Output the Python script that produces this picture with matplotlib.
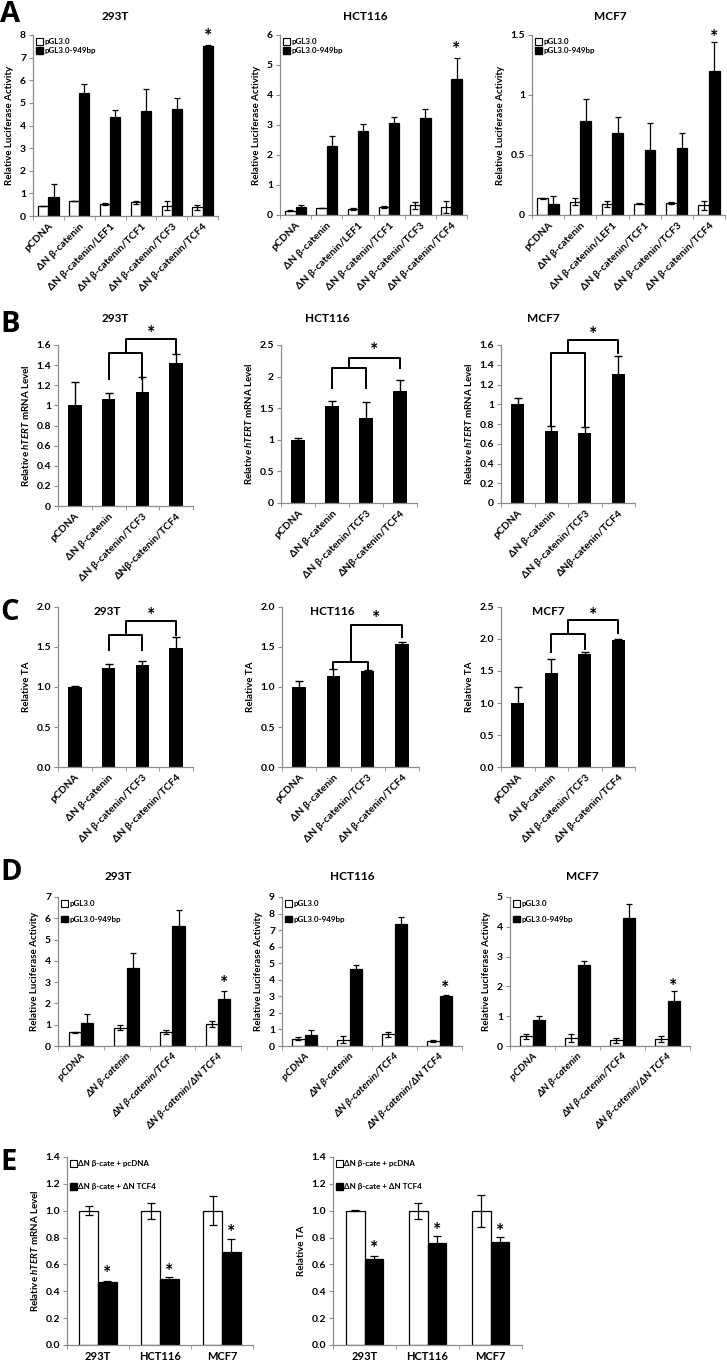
import numpy as np
import matplotlib.pyplot as plt
from matplotlib.patches import Patch

plt.rcParams['font.family'] = ['Lato', 'Open Sans', 'DejaVu Sans']
plt.rcParams['font.weight'] = 'bold'
plt.rcParams['mathtext.fontset'] = 'custom'
plt.rcParams['mathtext.it'] = 'Lato:italic:bold'
plt.rcParams['mathtext.rm'] = 'Lato:bold'

W, H = 727, 1362

# ---------------- data ----------------
# A: promoter luciferase activity, six constructs
a_labels = ['pCDNA', 'ΔN β-catenin', 'ΔN β-catenin/LEF1', 'ΔN β-catenin/TCF1',
            'ΔN β-catenin/TCF3', 'ΔN β-catenin/TCF4']
a293_ctrl = [0.45, 0.68, 0.53, 0.60, 0.45, 0.38]
a293_ctrl_err = [0.0, 0.0, 0.04, 0.05, 0.20, 0.12]
a293_prom = [0.85, 5.45, 4.37, 4.62, 4.72, 7.50]
a293_prom_err = [0.55, 0.40, 0.31, 1.00, 0.50, 0.05]
ahct_ctrl = [0.15, 0.22, 0.20, 0.27, 0.32, 0.27]
ahct_ctrl_err = [0.02, 0.0, 0.03, 0.02, 0.13, 0.20]
ahct_prom = [0.27, 2.30, 2.80, 3.08, 3.23, 4.52]
ahct_prom_err = [0.08, 0.32, 0.25, 0.20, 0.32, 0.73]
amcf_ctrl = [0.14, 0.11, 0.09, 0.095, 0.10, 0.08]
amcf_ctrl_err = [0.005, 0.03, 0.025, 0.003, 0.005, 0.035]
amcf_prom = [0.09, 0.78, 0.68, 0.54, 0.56, 1.20]
amcf_prom_err = [0.07, 0.19, 0.14, 0.23, 0.12, 0.24]

# B: hTERT mRNA
b_labels = ['pCDNA', 'ΔN β-catenin', 'ΔN β-catenin/TCF3', 'ΔNβ-catenin/TCF4']
b293 = [1.00, 1.06, 1.13, 1.42]
b293_err = [0.23, 0.06, 0.15, 0.09]
bhct = [1.00, 1.54, 1.35, 1.77]
bhct_err = [0.03, 0.07, 0.25, 0.17]
bmcf = [1.00, 0.73, 0.71, 1.31]
bmcf_err = [0.065, 0.05, 0.06, 0.18]

# C: telomerase activity
c_labels = ['pCDNA', 'ΔN β-catenin', 'ΔN β-catenin/TCF3', 'ΔN β-catenin/TCF4']
c293 = [1.00, 1.24, 1.27, 1.49]
c293_err = [0.01, 0.05, 0.06, 0.13]
chct = [1.00, 1.14, 1.20, 1.54]
chct_err = [0.08, 0.08, 0.01, 0.02]
cmcf = [1.00, 1.47, 1.77, 1.98]
cmcf_err = [0.25, 0.21, 0.02, 0.02]

# brackets: (low bracket y, leg end bar2, leg end bar3, upper y, leg end bar4, star y)
b293_br = (1.52, 1.26, 1.26, 1.66, 1.52, 1.71)
bhct_br = (2.13, 1.82, 1.82, 2.29, 2.13, 2.42)
bmcf_br = (1.516, 0.79, 0.775, 1.65, 1.516, 1.71)
c293_br = (1.65, 1.46, 1.46, 1.82, 1.65, 1.90)
chct_br = (1.31, 1.22, 1.22, 1.78, 1.62, 1.86)
cmcf_br = (2.08, 1.80, 1.85, 2.29, 2.10, 2.37)

# D: dominant negative TCF4
d_labels = ['pCDNA', 'ΔN β-catenin', 'ΔN β-catenin/TCF4', 'ΔN β-catenin/ΔN TCF4']
d293_ctrl = [0.65, 0.85, 0.65, 1.02]
d293_ctrl_err = [0.02, 0.12, 0.10, 0.15]
d293_prom = [1.10, 3.65, 5.62, 2.23]
d293_prom_err = [0.40, 0.70, 0.78, 0.37]
dhct_ctrl = [0.45, 0.38, 0.70, 0.32]
dhct_ctrl_err = [0.10, 0.20, 0.13, 0.06]
dhct_prom = [0.68, 4.65, 7.35, 3.02]
dhct_prom_err = [0.27, 0.27, 0.45, 0.08]
dmcf_ctrl = [0.32, 0.27, 0.19, 0.23]
dmcf_ctrl_err = [0.08, 0.12, 0.09, 0.10]
dmcf_prom = [0.87, 2.72, 4.30, 1.50]
dmcf_prom_err = [0.14, 0.12, 0.45, 0.35]

# E: rescue by dominant negative TCF4
e_cells = ['293T', 'HCT116', 'MCF7']
e_mrna_ctrl = [1.0, 1.0, 1.0]
e_mrna_ctrl_err = [0.035, 0.06, 0.11]
e_mrna_dn = [0.47, 0.495, 0.69]
e_mrna_dn_err = [0.01, 0.01, 0.10]
e_ta_ctrl = [1.0, 1.0, 1.0]
e_ta_ctrl_err = [0.005, 0.06, 0.12]
e_ta_dn = [0.64, 0.76, 0.77]
e_ta_dn_err = [0.02, 0.05, 0.035]

fig = plt.figure(figsize=(W / 100, H / 100), dpi=100)


def px_axes(l, t, r, b):
    return fig.add_axes([l / W, 1 - b / H, (r - l) / W, (b - t) / H])


def ftext(x, y, s, **kw):
    fig.text(x / W, 1 - y / H, s, **kw)


def style(ax, labels, ymax, yticks, ylabels, rot=45, italic=False, xsize=7.5):
    n = len(labels)
    for s in ['top', 'right']:
        ax.spines[s].set_visible(False)
    for s in ['left', 'bottom']:
        ax.spines[s].set_color('#8c8c8c')
        ax.spines[s].set_linewidth(0.9)
    ax.set_xlim(-0.5, n - 0.5)
    ax.set_ylim(0, ymax)
    ax.set_yticks(yticks)
    ax.set_yticklabels(ylabels, fontsize=7.5, fontweight='bold')
    ax.set_xticks(np.arange(n))
    if rot:
        ax.set_xticklabels(labels, rotation=rot, ha='right', rotation_mode='anchor',
                           fontsize=xsize, fontweight='bold',
                           fontstyle='italic' if italic else 'normal')
    else:
        ax.set_xticklabels(labels, fontsize=8, fontweight='bold')
    ax.set_xticks(np.arange(n + 1) - 0.5, minor=True)
    ax.tick_params(axis='x', which='major', length=0, pad=4)
    ax.tick_params(axis='x', which='minor', length=3, color='#8c8c8c')
    ax.tick_params(axis='y', length=3, color='#8c8c8c', pad=2)


def pair(ax, ctrl, ctrl_err, prom, prom_err, w, cap=2.2):
    x = np.arange(len(ctrl))
    ek = dict(ecolor='black', elinewidth=0.9, capsize=cap, capthick=0.9)
    ax.bar(x - w / 2, ctrl, w, yerr=ctrl_err, color='white', edgecolor='black',
           linewidth=0.9, error_kw=ek)
    ax.bar(x + w / 2, prom, w, yerr=prom_err, color='black', edgecolor='black',
           linewidth=0.9, error_kw=ek)


def single(ax, vals, errs, w=0.4):
    x = np.arange(len(vals))
    ax.bar(x, vals, w, yerr=errs, color='black',
           error_kw=dict(ecolor='black', elinewidth=1, capsize=3.2, capthick=1))


def bracket(ax, br):
    low, l2, l3, up, l4, star = br
    ax.plot([1, 1, 2, 2], [l2, low, low, l3], color='black', lw=1.4, clip_on=False)
    ax.plot([1.5, 1.5, 3, 3], [low, up, up, l4], color='black', lw=1.4, clip_on=False)
    ax.text(2.25, star, '*', ha='center', va='center', fontsize=14,
            fontweight='bold', clip_on=False)


def star(ax, x, y, size=14):
    ax.text(x, y, '*', ha='center', va='center', fontsize=size, fontweight='bold',
            clip_on=False)


def legend(ax, a, b, spacing=0.25, size=5.8):
    h = [Patch(facecolor='white', edgecolor='black', linewidth=0.8, label=a),
         Patch(facecolor='black', edgecolor='black', label=b)]
    ax.legend(handles=h, loc='upper left', frameon=False,
              handlelength=0.8, handleheight=0.8, handletextpad=0.2,
              labelspacing=spacing, borderaxespad=0.3, borderpad=0.1,
              prop={'weight': 'bold', 'size': size})


lum = 'Relative Luciferase Activity'
mrna = r'Relative $\it{hTERT}$ mRNA Level'
ysize = 7

# ---------------- panel A ----------------
ax = px_axes(33, 35, 218, 216)
pair(ax, a293_ctrl, a293_ctrl_err, a293_prom, a293_prom_err, 0.33)
style(ax, a_labels, 8, range(9), [str(v) for v in range(9)])
legend(ax, 'pGL3.0', 'pGL3.0-949bp')
ax.set_ylabel(lum, fontsize=ysize, fontweight='bold', labelpad=4)
star(ax, 5 + 0.165, 7.95)

ax = px_axes(280, 35, 467, 215)
pair(ax, ahct_ctrl, ahct_ctrl_err, ahct_prom, ahct_prom_err, 0.33)
style(ax, a_labels, 6, range(7), [str(v) for v in range(7)])
legend(ax, 'pGL3.0', 'pGL3.0-949bp')
ax.set_ylabel(lum, fontsize=ysize, fontweight='bold', labelpad=4)
star(ax, 5 + 0.165, 5.52)

ax = px_axes(532, 35, 725, 215)
pair(ax, amcf_ctrl, amcf_ctrl_err, amcf_prom, amcf_prom_err, 0.33)
style(ax, a_labels, 1.5, [0, 0.5, 1, 1.5], ['0', '0.5', '1', '1.5'])
legend(ax, 'pGL3.0', 'pGL3.0-949bp')
ax.set_ylabel(lum, fontsize=ysize, fontweight='bold', labelpad=4)
star(ax, 5 + 0.165, 1.48)

# ---------------- panel B ----------------
ax = px_axes(58, 345, 193, 506)
single(ax, b293, b293_err)
style(ax, b_labels, 1.6, np.arange(0, 1.61, 0.2), ['0', '0.2', '0.4', '0.6', '0.8', '1',
                                                   '1.2', '1.4', '1.6'])
ax.set_ylabel(mrna, fontsize=ysize, fontweight='bold', labelpad=4)
bracket(ax, b293_br)

ax = px_axes(281, 345, 417, 503)
single(ax, bhct, bhct_err)
style(ax, b_labels, 2.5, [0, 0.5, 1, 1.5, 2, 2.5], ['0', '0.5', '1', '1.5', '2', '2.5'])
ax.set_ylabel(mrna, fontsize=ysize, fontweight='bold', labelpad=4)
bracket(ax, bhct_br)

ax = px_axes(501, 345, 635, 503)
single(ax, bmcf, bmcf_err)
style(ax, b_labels, 1.6, np.arange(0, 1.61, 0.2), ['0', '0.2', '0.4', '0.6', '0.8', '1',
                                                   '1.2', '1.4', '1.6'])
ax.set_ylabel(mrna, fontsize=ysize, fontweight='bold', labelpad=4)
bracket(ax, bmcf_br)

# ---------------- panel C ----------------
for (l, r), vals, errs, br, ymax, name, tx in [
        ((58, 193), c293, c293_err, c293_br, 2.0, '293T', 107),
        ((282, 419), chct, chct_err, chct_br, 2.0, 'HCT116', 332),
        ((501, 635), cmcf, cmcf_err, cmcf_br, 2.5, 'MCF7', 548)]:
    ax = px_axes(l, 607, r, 767)
    single(ax, vals, errs)
    ticks = np.arange(0, ymax + 0.01, 0.5)
    style(ax, c_labels, ymax, ticks, ['%.1f' % v for v in ticks])
    ax.set_ylabel('Relative TA', fontsize=ysize, fontweight='bold', labelpad=4)
    bracket(ax, br)
    ftext(tx, 611, name, ha='center', va='center', fontsize=8.5, fontweight='bold')

# ---------------- panel D ----------------
for (l, r), ymax, ctrl, ce, prom, pe, st, name, tx in [
        ((58, 241), 7, d293_ctrl, d293_ctrl_err, d293_prom, d293_prom_err, 2.95, '293T', 118),
        ((282, 462), 9, dhct_ctrl, dhct_ctrl_err, dhct_prom, dhct_prom_err, 3.5, 'HCT116', 352),
        ((510, 690), 5, dmcf_ctrl, dmcf_ctrl_err, dmcf_prom, dmcf_prom_err, 2.0, 'MCF7', 582)]:
    ax = px_axes(l, 897, r, 1046)
    pair(ax, ctrl, ce, prom, pe, 0.27)
    style(ax, d_labels, ymax, range(ymax + 1), [str(v) for v in range(ymax + 1)],
          italic=True)
    legend(ax, 'pGL3.0', 'pGL3.0-949bp', spacing=1.1)
    ax.set_ylabel(lum, fontsize=ysize, fontweight='bold', labelpad=4)
    star(ax, 3 + 0.135, st)
    ftext(tx, 876, name, ha='center', va='center', fontsize=8.5, fontweight='bold')

# ---------------- panel E ----------------
eticks = np.arange(0, 1.41, 0.2)
for (l, r), ctrl, ce, dn, de, ylab, stars in [
        ((67, 253), e_mrna_ctrl, e_mrna_ctrl_err, e_mrna_dn, e_mrna_dn_err, mrna,
         [0.53, 0.545, 0.84]),
        ((333, 522), e_ta_ctrl, e_ta_ctrl_err, e_ta_dn, e_ta_dn_err, 'Relative TA',
         [0.715, 0.85, 0.847])]:
    ax = px_axes(l, 1157, r, 1345)
    pair(ax, ctrl, ce, dn, de, 0.3, cap=3.2)
    style(ax, e_cells, 1.4, eticks, ['%.1f' % v for v in eticks], rot=0)
    legend(ax, 'ΔN β-cate + pcDNA', 'ΔN β-cate + ΔN TCF4', spacing=2.0)
    ax.set_ylabel(ylab, fontsize=ysize, fontweight='bold', labelpad=4)
    for i, s in enumerate(stars):
        star(ax, i + 0.15, s)

# titles and panel letters
for x, y, name in [(115, 17, '293T'), (365, 17, 'HCT116'), (610, 17, 'MCF7'),
                   (115, 318, '293T'), (327, 318, 'HCT116'), (543, 318, 'MCF7')]:
    ftext(x, y, name, ha='center', va='center', fontsize=8.5, fontweight='bold')
for y, letter in [(0, 'A'), (310, 'B'), (598, 'C'), (858, 'D'), (1148, 'E')]:
    ftext(0, y, letter, ha='left', va='top', fontsize=21, fontweight='bold',
          family=['Open Sans', 'DejaVu Sans'])

fig.savefig('out.png', dpi=100)
